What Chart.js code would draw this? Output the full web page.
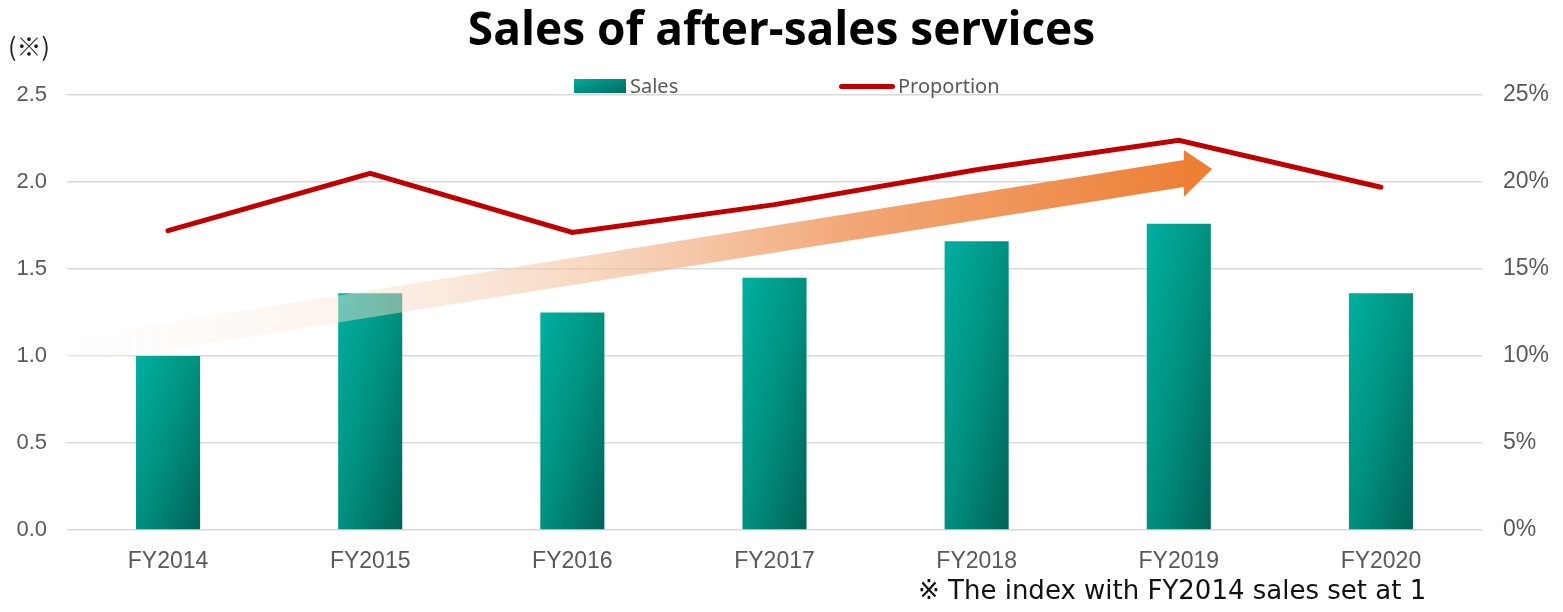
<!DOCTYPE html>
<html>
<head>
<meta charset="utf-8">
<script src="https://cdn.jsdelivr.net/npm/chart.js@4.4.0/dist/chart.umd.min.js"></script>
<style>
  html, body { margin: 0; padding: 0; background: #ffffff; }
  #wrap { position: relative; width: 1563px; height: 612px; overflow: hidden; }
  #c { position: absolute; left: 0; top: 0; }
  #title { position: absolute; left: 0; width: 1563px; top: -4px; text-align: center;
           font-family: "Open Sans", "Noto Sans", sans-serif; font-weight: 700; font-size: 46px; color: #000; }
  #unit { position: absolute; left: 8px; top: 27px; font-family: "Noto Sans CJK JP", sans-serif; font-size: 25px; color: #222; }
  #note { position: absolute; left: 918px; top: 575px; font-family: "DejaVu Sans", "Noto Sans CJK JP", sans-serif; font-size: 26px; line-height: 30px; color: #111; white-space: nowrap; }
  .leg { position: absolute; top: 72px; font-family: "Noto Sans", "Open Sans", sans-serif; font-size: 20px; color: #595959; white-space: nowrap; }
  .sw-bar { position: absolute; left: 574px; top: 79px; width: 52px; height: 14px; background: linear-gradient(160deg, #00ad9c, #006a5e); }
  .sw-line { position: absolute; left: 839px; top: 84px; width: 56px; height: 5px; border-radius: 3px; background: #c00000; }
</style>
</head>
<body>
<div id="wrap">
  <canvas id="c" width="1563" height="612"></canvas>
  <div id="title">Sales of after-sales services</div>
  <div id="unit">(※)</div>
  <div class="sw-bar"></div><div class="leg" style="left:630px;">Sales</div>
  <div class="sw-line"></div><div class="leg" style="left:898px;">Proportion</div>
  <div id="note">※ The index with FY2014 sales set at 1</div>
</div>
<script>
const categories = ["FY2014", "FY2015", "FY2016", "FY2017", "FY2018", "FY2019", "FY2020"];
const salesIndex = [1.00, 1.36, 1.25, 1.45, 1.66, 1.76, 1.36];
const proportionPct = [17.2, 20.5, 17.1, 18.7, 20.7, 22.4, 19.7];
const leftTicks = [0, 0.5, 1.0, 1.5, 2.0, 2.5];
const rightTicks = [0, 5, 10, 15, 20, 25];

const BAR_FRACTION = 0.317;

function barGradient(ctx) {
  const chart = ctx.chart;
  const xs = chart.scales.x, ys = chart.scales.y;
  if (!xs || !ys || ctx.type !== 'data') return '#00a090';
  const cx = xs.getPixelForValue(ctx.dataIndex);
  const w = (xs.width / categories.length) * BAR_FRACTION;
  const top = ys.getPixelForValue(ctx.raw);
  const base = ys.getPixelForValue(0);
  if (!isFinite(cx) || !isFinite(top)) return '#00a090';
  const h = Math.max(1, base - top);
  const x0 = cx - w / 2, y0 = top;
  const k = 2 * w * h / (h * h + w * w);
  const g = chart.ctx.createLinearGradient(x0, y0, x0 + k * h, y0 + k * w);
  g.addColorStop(0, '#00b0a0');
  g.addColorStop(0.5, '#00907f');
  g.addColorStop(1, '#006357');
  return g;
}

const arrowPlugin = {
  id: 'trendArrow',
  afterDatasetDraw(chart, args) {
    if (args.index !== 0) return;
    const xs = chart.scales.x, ys = chart.scales.y, ctx = chart.ctx;
    const catW = xs.width / categories.length;
    const x0 = chart.chartArea.left;
    const xb = xs.getPixelForValue(5) + catW * 0.025;
    const xt = xs.getPixelForValue(5) + catW * 0.165;
    const p = v => ys.getPixelForValue(v);
    ctx.save();
    const g = ctx.createLinearGradient(x0, 0, xt, 0);
    g.addColorStop(0, 'rgba(255,255,255,0.3)');
    g.addColorStop(0.24, 'rgba(250,228,212,0.45)');
    g.addColorStop(0.43, 'rgba(243,197,163,0.6)');
    g.addColorStop(0.69, 'rgba(239,146,86,0.82)');
    g.addColorStop(1, 'rgba(237,125,49,1)');
    ctx.fillStyle = g;
    ctx.beginPath();
    ctx.moveTo(x0, p(1.098));
    ctx.lineTo(xb, p(2.126));
    ctx.lineTo(xb, p(2.184));
    ctx.lineTo(xt, p(2.075));
    ctx.lineTo(xb, p(1.914));
    ctx.lineTo(xb, p(1.971));
    ctx.lineTo(x0, p(0.943));
    ctx.closePath();
    ctx.fill();
    ctx.restore();
  }
};

new Chart(document.getElementById('c'), {
  data: {
    labels: categories,
    datasets: [
      {
        type: 'bar',
        label: 'Sales',
        data: salesIndex,
        yAxisID: 'y',
        order: 1,
        backgroundColor: barGradient,
        borderWidth: 0,
        categoryPercentage: 1,
        barPercentage: BAR_FRACTION
      },
      {
        type: 'line',
        label: 'Proportion',
        data: proportionPct,
        yAxisID: 'y1',
        order: 0,
        borderColor: '#c00000',
        borderWidth: 5,
        borderCapStyle: 'round',
        borderJoinStyle: 'miter',
        pointRadius: 0,
        tension: 0,
        fill: false
      }
    ]
  },
  options: {
    responsive: false,
    animation: false,
    layout: { padding: { top: 95, left: 0, right: 0, bottom: 0 } },
    plugins: { legend: { display: false }, title: { display: false }, tooltip: { enabled: false } },
    scales: {
      x: {
        grid: { display: false },
        border: { display: false },
        ticks: { color: '#595959', font: { family: 'Liberation Sans', size: 23 }, padding: 10, maxRotation: 0 },
        afterFit(s) { s.height = 82; }
      },
      y: {
        position: 'left',
        min: 0, max: 2.5,
        afterBuildTicks(s) { s.ticks = leftTicks.map(v => ({ value: v })); },
        grid: { color: '#d9d9d9', lineWidth: 1.5, drawTicks: false },
        border: { display: false },
        ticks: { color: '#595959', font: { family: 'Liberation Sans', size: 22 }, padding: 20,
                 callback: v => Number(v).toFixed(1) },
        afterFit(s) { s.width = 67; }
      },
      y1: {
        position: 'right',
        min: 0, max: 25,
        afterBuildTicks(s) { s.ticks = rightTicks.map(v => ({ value: v })); },
        grid: { display: false, drawTicks: false },
        border: { display: false },
        ticks: { color: '#595959', font: { family: 'Liberation Sans', size: 23 }, padding: 21,
                 callback: v => v + '%' },
        afterFit(s) { s.width = 81; }
      }
    }
  },
  plugins: [arrowPlugin]
});
</script>
</body>
</html>
